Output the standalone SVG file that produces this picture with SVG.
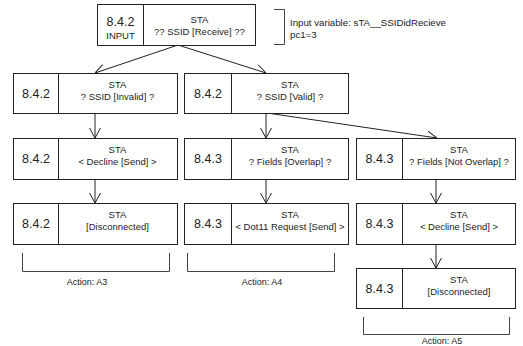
<svg xmlns="http://www.w3.org/2000/svg" width="523" height="346" viewBox="0 0 523 346">
  <style>
    .box { fill: #ffffff; stroke: #222222; stroke-width: 1; }
    .div { stroke: #222222; stroke-width: 1; }
    .num { font-family: "Liberation Sans", Arial, sans-serif; font-size: 12.5px; fill: #222222; text-anchor: middle; }
    .lbl { font-family: "Liberation Sans", Arial, sans-serif; font-size: 9.5px; fill: #222222; text-anchor: middle; }
    .act { font-family: "Liberation Sans", Arial, sans-serif; font-size: 9px; fill: #222222; text-anchor: middle; }
    .note { font-family: "Liberation Sans", Arial, sans-serif; font-size: 9.7px; fill: #222222; }
    .edge { fill: none; stroke: #222222; stroke-width: 1; marker-end: url(#open); }
    .brk { fill: none; stroke: #444444; stroke-width: 1; }
  </style>
  <defs>
    <marker id="open" viewBox="0 0 10 12" refX="10" refY="6" markerWidth="10" markerHeight="12" markerUnits="userSpaceOnUse" orient="auto">
      <path d="M0,0.5 L10,6 L0,11.5" fill="none" stroke="#222222" stroke-width="1"/>
    </marker>
  </defs>
  <rect width="523" height="346" fill="#ffffff"/>

  <!-- connectors -->
  <g id="connectors">
    <line class="edge" x1="178" y1="45" x2="95" y2="73"/>
    <line class="edge" x1="178" y1="45" x2="266" y2="73"/>
    <line class="edge" x1="95" y1="113" x2="95" y2="138"/>
    <line class="edge" x1="266" y1="113" x2="266" y2="138"/>
    <line class="edge" x1="267" y1="113" x2="437" y2="138"/>
    <line class="edge" x1="95" y1="179" x2="95" y2="203"/>
    <line class="edge" x1="266" y1="179" x2="266" y2="203"/>
    <line class="edge" x1="436" y1="179" x2="436" y2="203"/>
    <line class="edge" x1="436" y1="244" x2="436" y2="268"/>
  </g>

  <!-- entry node -->
  <g id="n-input">
    <rect class="box" x="97.5" y="4.5" width="158" height="41"/>
    <line class="div" x1="143.5" y1="4.5" x2="143.5" y2="45.5"/>
    <text class="num" x="120.5" y="26">8.4.2</text>
    <text class="lbl" x="120.5" y="39">INPUT</text>
    <text class="lbl" x="199.5" y="23">STA</text>
    <text class="lbl" x="199.5" y="35">?? SSID [Receive] ??</text>
  </g>
  <g id="input-note">
    <path class="brk" d="M274,9.5 H284.5 V44.5 H274"/>
    <text class="note" x="290" y="26">Input variable: sTA__SSIDidRecieve</text>
    <text class="note" x="290" y="38">pc1=3</text>
  </g>

  <!-- second row -->
  <g id="n-invalid">
    <rect class="box" x="13.5" y="73.5" width="164" height="40"/>
    <line class="div" x1="58.5" y1="73.5" x2="58.5" y2="113.5"/>
    <text class="num" x="36" y="98">8.4.2</text>
    <text class="lbl" x="117.5" y="88">STA</text>
    <text class="lbl" x="117.5" y="100">? SSID [Invalid] ?</text>
  </g>
  <g id="n-valid">
    <rect class="box" x="184.5" y="73.5" width="164" height="40"/>
    <line class="div" x1="231.5" y1="73.5" x2="231.5" y2="113.5"/>
    <text class="num" x="208" y="98">8.4.2</text>
    <text class="lbl" x="290" y="88">STA</text>
    <text class="lbl" x="290" y="100">? SSID [Valid] ?</text>
  </g>

  <!-- third row -->
  <g id="n-decline-1">
    <rect class="box" x="13.5" y="138.5" width="164" height="41"/>
    <line class="div" x1="58.5" y1="138.5" x2="58.5" y2="179.5"/>
    <text class="num" x="36" y="163">8.4.2</text>
    <text class="lbl" x="117.5" y="153">STA</text>
    <text class="lbl" x="117.5" y="165">&lt; Decline [Send] &gt;</text>
  </g>
  <g id="n-overlap">
    <rect class="box" x="184.5" y="138.5" width="164" height="41"/>
    <line class="div" x1="231.5" y1="138.5" x2="231.5" y2="179.5"/>
    <text class="num" x="208" y="163">8.4.3</text>
    <text class="lbl" x="290" y="153">STA</text>
    <text class="lbl" x="290" y="165">? Fields [Overlap] ?</text>
  </g>
  <g id="n-not-overlap">
    <rect class="box" x="356.5" y="138.5" width="159" height="41"/>
    <line class="div" x1="402.5" y1="138.5" x2="402.5" y2="179.5"/>
    <text class="num" x="379.5" y="163">8.4.3</text>
    <text class="lbl" x="459" y="153">STA</text>
    <text class="lbl" x="459" y="165">? Fields [Not Overlap] ?</text>
  </g>

  <!-- fourth row -->
  <g id="n-disconnected-1">
    <rect class="box" x="13.5" y="203.5" width="164" height="41"/>
    <line class="div" x1="58.5" y1="203.5" x2="58.5" y2="244.5"/>
    <text class="num" x="36" y="228">8.4.2</text>
    <text class="lbl" x="117.5" y="218">STA</text>
    <text class="lbl" x="117.5" y="230">[Disconnected]</text>
  </g>
  <g id="n-dot11-request">
    <rect class="box" x="184.5" y="203.5" width="164" height="41"/>
    <line class="div" x1="231.5" y1="203.5" x2="231.5" y2="244.5"/>
    <text class="num" x="208" y="228">8.4.3</text>
    <text class="lbl" x="290" y="218">STA</text>
    <text class="lbl" x="290" y="230">&lt; Dot11 Request [Send] &gt;</text>
  </g>
  <g id="n-decline-2">
    <rect class="box" x="356.5" y="203.5" width="159" height="41"/>
    <line class="div" x1="402.5" y1="203.5" x2="402.5" y2="244.5"/>
    <text class="num" x="379.5" y="228">8.4.3</text>
    <text class="lbl" x="459" y="218">STA</text>
    <text class="lbl" x="459" y="230">&lt; Decline [Send] &gt;</text>
  </g>

  <!-- fifth row -->
  <g id="n-disconnected-2">
    <rect class="box" x="356.5" y="268.5" width="159" height="40"/>
    <line class="div" x1="402.5" y1="268.5" x2="402.5" y2="308.5"/>
    <text class="num" x="379.5" y="293">8.4.3</text>
    <text class="lbl" x="459" y="283">STA</text>
    <text class="lbl" x="459" y="295">[Disconnected]</text>
  </g>

  <!-- action brackets -->
  <g id="action-a3">
    <path class="brk" d="M22.5,253 V271.5 H169.5 V253"/>
    <text class="act" x="87" y="285">Action: A3</text>
  </g>
  <g id="action-a4">
    <path class="brk" d="M187.5,253 V271.5 H334.5 V253"/>
    <text class="act" x="262" y="285">Action: A4</text>
  </g>
  <g id="action-a5">
    <path class="brk" d="M363.5,317 V334.5 H509.5 V317"/>
    <text class="act" x="442" y="344">Action: A5</text>
  </g>
</svg>
